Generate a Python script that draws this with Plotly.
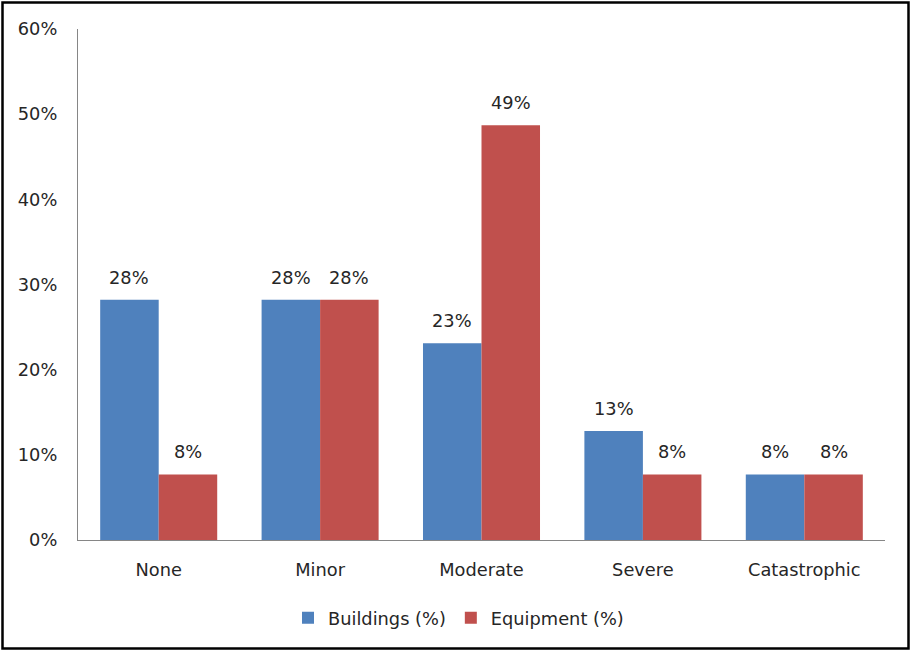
import plotly.graph_objects as go

categories = ["None", "Minor", "Moderate", "Severe", "Catastrophic"]
buildings = [28.2, 28.2, 23.1, 12.8, 7.7]
equipment = [7.7, 28.2, 48.7, 7.7, 7.7]
y_ticks = [0, 10, 20, 30, 40, 50, 60]

W, H = 911, 651
ML, MR, MT, MB = 78, 26, 29, 111
FONT = "DejaVu Sans"
TXT = "#262626"
FS = 17.8

fig = go.Figure()
fig.add_trace(go.Bar(name="Buildings (%)", x=categories, y=buildings,
                     marker=dict(color="#4F81BD", line=dict(width=0))))
fig.add_trace(go.Bar(name="Equipment (%)", x=categories, y=equipment,
                     marker=dict(color="#C0504D", line=dict(width=0))))

pw = W - ML - MR
ph = H - MT - MB
cat_w = pw / len(categories)
bargap = 0.275
bar_w = cat_w * (1 - bargap) / 2

ann = []
for vals, sgn in ((buildings, -1), (equipment, 1)):
    for c, v in zip(categories, vals):
        ann.append(dict(x=c, y=v, xref="x", yref="y", text=f"{round(v)}%",
                        showarrow=False, yanchor="bottom", xshift=sgn * bar_w / 2,
                        yshift=10, font=dict(family=FONT, size=FS, color=TXT)))

fig.update_layout(
    width=W, height=H,
    margin=dict(l=ML, r=MR, t=MT, b=MB),
    paper_bgcolor="white", plot_bgcolor="white",
    barmode="group", bargap=bargap, bargroupgap=0,
    font=dict(family=FONT, size=FS, color=TXT),
    showlegend=True,
    legend=dict(orientation="h", x=(288 - ML) / pw, xanchor="left", y=-0.153, yanchor="middle",
                font=dict(family=FONT, size=FS, color=TXT), itemwidth=30),
    annotations=ann,
    shapes=[dict(type="rect", xref="paper", yref="paper",
                 x0=-(ML - 2.5) / pw, x1=1 + (MR - 2.5) / pw,
                 y0=-(MB - 2.5) / ph, y1=1 + (MT - 2.5) / ph,
                 line=dict(color="black", width=2.5), layer="above")],
)
fig.update_xaxes(showline=True, linecolor="#868686", linewidth=1.3, showgrid=False,
                 ticks="", ticklabelstandoff=13, tickfont=dict(size=FS))
fig.update_yaxes(range=[0, 60], tickvals=y_ticks, ticktext=[f"{t}%" for t in y_ticks],
                 showline=True, linecolor="#868686", linewidth=1.3, showgrid=False,
                 zeroline=False, ticks="", ticklabelstandoff=16, tickfont=dict(size=FS))

fig.write_html("out.html")
